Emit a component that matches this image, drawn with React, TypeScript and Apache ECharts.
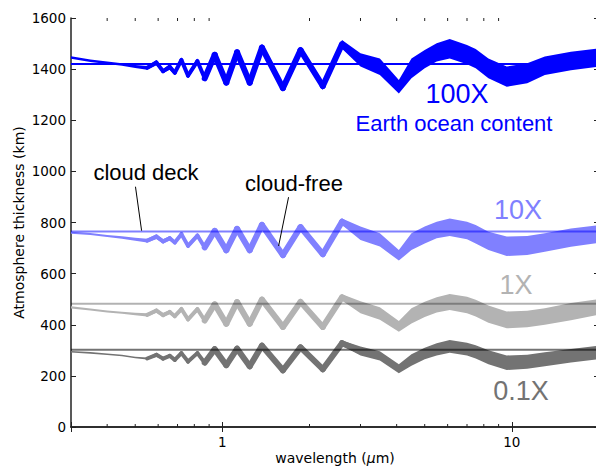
import React, { useEffect, useRef } from "react";
import * as echarts from "echarts";

// ---- data ----
const WAVELENGTH = [
  0.3, 0.35, 0.4, 0.45, 0.5, 0.55,
  0.592, 0.624, 0.658, 0.685, 0.722, 0.761, 0.82, 0.869, 0.941, 1.032, 1.124, 1.243, 1.37, 1.619, 1.862, 2.223, 2.59,
  3.0, 3.5, 4.07, 4.5, 5.0, 5.5, 6.1, 7.0, 7.5, 8.3, 9.6, 11.3, 13, 16, 20,
];

const HI_100X = [
  1450, 1438, 1430, 1423, 1416, 1412,
  1436, 1400, 1420, 1395, 1446, 1385, 1442, 1375, 1468, 1360, 1479, 1360, 1498, 1340, 1488, 1350, 1514,
  1462, 1442, 1357, 1442, 1475, 1501, 1518, 1494, 1479, 1442, 1410, 1423, 1449, 1468, 1481,
];
const LO_100X = [
  1441, 1428, 1420, 1413, 1404, 1398,
  1415, 1384, 1398, 1377, 1425, 1364, 1420, 1353, 1444, 1335, 1452, 1334, 1470, 1312, 1460, 1318, 1480,
  1410, 1377, 1305, 1364, 1403, 1430, 1442, 1419, 1403, 1364, 1331, 1345, 1377, 1396, 1410,
];

const HI_10X = [
  764, 759, 751, 746, 740, 736,
  754, 734, 747, 728, 764, 718, 758, 712, 777, 703, 786, 703, 803, 685, 794, 688, 816,
  784, 758, 692, 758, 784, 803, 816, 803, 790, 764, 745, 747, 758, 777, 790,
];
const LO_10X = [
  756, 751, 743, 736, 729, 722,
  735, 718, 730, 716, 745, 699, 740, 693, 757, 680, 764, 680, 778, 660, 770, 664, 790,
  732, 706, 651, 692, 718, 738, 747, 734, 718, 692, 669, 673, 686, 705, 721,
];

const HI_1X = [
  472, 464, 456, 451, 447, 445,
  464, 445, 458, 440, 471, 430, 470, 425, 490, 415, 499, 415, 510, 403, 501, 403, 519,
  492, 468, 415, 465, 490, 508, 520, 510, 498, 475, 452, 455, 465, 485, 500,
];
const LO_1X = [
  464, 456, 448, 443, 437, 432,
  447, 430, 442, 427, 452, 412, 452, 408, 470, 393, 478, 393, 487, 380, 478, 380, 495,
  445, 420, 373, 405, 430, 448, 458, 445, 432, 408, 386, 390, 400, 418, 440,
];

const HI_01X = [
  297, 293, 288, 283, 275, 272,
  290, 273, 285, 268, 296, 262, 296, 258, 312, 250, 314, 246, 327, 232, 321, 236, 338,
  315, 296, 245, 285, 310, 328, 340, 330, 320, 300, 280, 283, 292, 305, 318,
];
const LO_01X = [
  291, 287, 282, 277, 269, 264,
  275, 262, 272, 257, 282, 250, 282, 245, 296, 234, 298, 229, 309, 212, 302, 216, 318,
  280, 260, 210, 240, 265, 280, 290, 280, 268, 245, 223, 228, 238, 252, 265,
];

const DECK_100X = 1420;
const DECK_10X = 765;
const DECK_1X = 482;
const DECK_01X = 302;

const X_MIN = 0.3;
const X_MAX = 20;
const Y_MIN = 0;
const Y_MAX = 1600;
const Y_STEP = 200;
const X_LABELS = [1, 10];
const MINOR_X_TICKS = [0.4, 0.5, 0.6, 0.7, 0.8, 0.9, 2, 3, 4, 5, 6, 7, 8, 9];

const CLOUD_DECK_POINTER = [[0.501, 940], [0.526, 768]];
const CLOUD_FREE_POINTER = [[1.693, 899], [1.564, 708]];

// band colours (opaque) and deck-line colours (translucent, so crossings darken)
const BAND_100X = "#0000ff";
const BAND_10X = "#8080ff";
const BAND_1X = "#b3b3b3";
const BAND_01X = "#737373";
const LINE_100X = "#0000ff";
const LINE_10X = "rgba(0,0,255,0.5)";
const LINE_1X = "rgba(0,0,0,0.3)";
const LINE_01X = "rgba(0,0,0,0.55)";
const AXIS_C = "#222";
const TICK_FONT = "DejaVu Sans";
const ANN_FONT = "Liberation Sans";

function strokeWidthAt(lambda: number) {
  if (lambda < 0.57) return 0;
  if (lambda < 0.9) return 4;
  if (lambda < 3.0) return 6;
  return 0;
}

function band(lo: number[], hi: number[], color: string, z: number) {
  return {
    type: "custom",
    coordinateSystem: "cartesian2d",
    xAxisIndex: 0,
    yAxisIndex: 0,
    silent: true,
    z,
    data: [[WAVELENGTH[0], lo[0]]],
    renderItem: (_p: any, api: any) => {
      const pts: number[][] = [];
      for (let i = 0; i < WAVELENGTH.length; i++) pts.push(api.coord([WAVELENGTH[i], hi[i]]));
      for (let i = WAVELENGTH.length - 1; i >= 0; i--) pts.push(api.coord([WAVELENGTH[i], lo[i]]));
      const children: any[] = [{ type: "polygon", shape: { points: pts }, style: { fill: color } }];
      for (let i = 0; i < WAVELENGTH.length - 1; i++) {
        const w = strokeWidthAt((WAVELENGTH[i] + WAVELENGTH[i + 1]) / 2);
        if (!w) continue;
        const a = api.coord([WAVELENGTH[i], (hi[i] + lo[i]) / 2]);
        const b = api.coord([WAVELENGTH[i + 1], (hi[i + 1] + lo[i + 1]) / 2]);
        children.push({
          type: "line",
          shape: { x1: a[0], y1: a[1], x2: b[0], y2: b[1] },
          style: { stroke: color, lineWidth: w, lineCap: "round" },
        });
      }
      return { type: "group", children };
    },
  };
}

function deck(level: number, color: string, z: number) {
  return {
    type: "line",
    xAxisIndex: 0,
    yAxisIndex: 0,
    data: [[X_MIN, level], [X_MAX, level]],
    showSymbol: false,
    symbol: "none",
    silent: true,
    z,
    lineStyle: { color, width: 2 },
  };
}

function pointer(pts: number[][]) {
  return {
    type: "line",
    data: pts,
    showSymbol: false,
    symbol: "none",
    silent: true,
    z: 10,
    lineStyle: { color: "#000", width: 1 },
  };
}

export default function App() {
  const ref = useRef<HTMLDivElement>(null);
  useEffect(() => {
    if (!ref.current) return;
    const chart = echarts.init(ref.current, undefined, { renderer: "svg" });
    const near = (v: number, t: number) => Math.abs(v - t) < 1e-6 * t;
    const xAxisCommon = {
      type: "log",
      logBase: 10,
      min: X_MIN,
      max: X_MAX,
      splitLine: { show: false },
      axisLine: { show: true, lineStyle: { color: AXIS_C, width: 1.5 } },
      axisTick: { show: true, inside: true, length: 5, lineStyle: { color: AXIS_C, width: 1 } },
    };
    const yAxisCommon = {
      type: "value",
      min: Y_MIN,
      max: Y_MAX,
      interval: Y_STEP,
      splitLine: { show: false },
      axisLine: { show: true, lineStyle: { color: AXIS_C, width: 1.5 } },
      axisTick: { show: true, inside: true, length: 5, lineStyle: { color: AXIS_C, width: 1 } },
    };
    chart.setOption({
      animation: false,
      grid: { left: 71, top: 18, right: 0, bottom: 41, containLabel: false, outerBoundsMode: "none" },
      xAxis: [
        {
          ...xAxisCommon,
          position: "bottom",
          axisLabel: {
            margin: 8,
            fontFamily: TICK_FONT,
            fontSize: 13.5,
            color: "#000",
            formatter: (v: number) => {
              for (const l of X_LABELS) if (near(v, l)) return String(l);
              return "";
            },
          },
          name: "wavelength ({i|μ}m)",
          nameLocation: "middle",
          nameGap: 24,
          nameMoveOverlap: false,
          nameTextStyle: {
            fontFamily: TICK_FONT,
            fontSize: 14,
            color: "#000",
            verticalAlign: "top",
            rich: { i: { fontStyle: "italic", fontFamily: TICK_FONT, fontSize: 14, color: "#000" } },
          },
        },
        { ...xAxisCommon, position: "top", axisLabel: { show: false } },
      ],
      yAxis: [
        {
          ...yAxisCommon,
          position: "left",
          axisLabel: {
            margin: 5,
            fontFamily: TICK_FONT,
            fontSize: 13.5,
            color: "#000",
            formatter: (v: number) => String(v),
          },
          name: "Atmosphere thickness (km)",
          nameLocation: "middle",
          nameGap: 45,
          nameMoveOverlap: false,
          nameTextStyle: { fontFamily: TICK_FONT, fontSize: 14, color: "#000" },
        },
        { ...yAxisCommon, position: "right", axisLabel: { show: false } },
      ],
      series: [
        band(LO_01X, HI_01X, BAND_01X, 2),
        band(LO_1X, HI_1X, BAND_1X, 2),
        band(LO_10X, HI_10X, BAND_10X, 2),
        band(LO_100X, HI_100X, BAND_100X, 2),
        deck(DECK_01X, LINE_01X, 4),
        deck(DECK_1X, LINE_1X, 4),
        deck(DECK_10X, LINE_10X, 4),
        deck(DECK_100X, LINE_100X, 4),
        pointer(CLOUD_DECK_POINTER),
        pointer(CLOUD_FREE_POINTER),
        {
          type: "custom",
          silent: true,
          z: 12,
          data: MINOR_X_TICKS.map((v) => [v, Y_MIN]),
          renderItem: (_p: any, api: any) => {
            const v = api.value(0);
            const b = api.coord([v, Y_MIN]);
            const t = api.coord([v, Y_MAX]);
            return {
              type: "group",
              children: [
                { type: "line", shape: { x1: b[0], y1: b[1], x2: b[0], y2: b[1] - 3 }, style: { stroke: AXIS_C, lineWidth: 1 } },
                { type: "line", shape: { x1: t[0], y1: t[1], x2: t[0], y2: t[1] + 3 }, style: { stroke: AXIS_C, lineWidth: 1 } },
              ],
            };
          },
        },
      ],
      graphic: [
        { type: "text", x: 457, y: 94, style: { text: "100X", fill: "#0000ff", fontSize: 27, fontFamily: ANN_FONT, align: "center", verticalAlign: "middle" } },
        { type: "text", x: 454, y: 123, style: { text: "Earth ocean content", fill: "#0000ff", fontSize: 22, fontFamily: ANN_FONT, align: "center", verticalAlign: "middle" } },
        { type: "text", x: 518, y: 210, style: { text: "10X", fill: "#8080ff", fontSize: 27, fontFamily: ANN_FONT, align: "center", verticalAlign: "middle" } },
        { type: "text", x: 516, y: 285, style: { text: "1X", fill: "#b3b3b3", fontSize: 27, fontFamily: ANN_FONT, align: "center", verticalAlign: "middle" } },
        { type: "text", x: 521, y: 391, style: { text: "0.1X", fill: "#737373", fontSize: 27, fontFamily: ANN_FONT, align: "center", verticalAlign: "middle" } },
        { type: "text", x: 146, y: 172, style: { text: "cloud deck", fill: "#000", fontSize: 22, fontFamily: ANN_FONT, align: "center", verticalAlign: "middle" } },
        { type: "text", x: 294, y: 183, style: { text: "cloud-free", fill: "#000", fontSize: 22, fontFamily: ANN_FONT, align: "center", verticalAlign: "middle" } },
      ],
    });
    return () => chart.dispose();
  }, []);
  return (
    <div style={{ position: "fixed", left: 0, top: 0, width: 596, height: 468, overflow: "hidden", background: "#fff" }}>
      <div ref={ref} style={{ width: 599, height: 468 }} />
    </div>
  );
}
